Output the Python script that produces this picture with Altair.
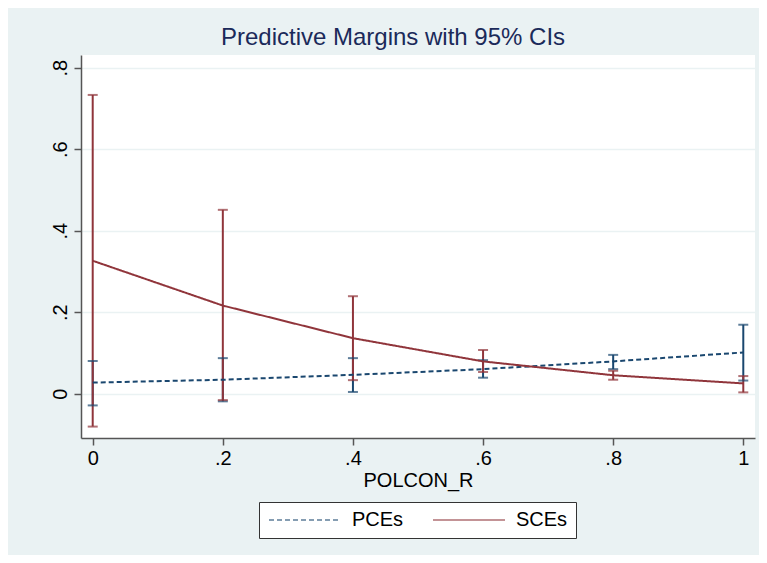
import altair as alt
import pandas as pd

# Data
x_vals = [0.0, 0.2, 0.4, 0.6, 0.8, 1.0]
pce_mean = [0.027, 0.034, 0.046, 0.060, 0.079, 0.101]
pce_lo = [-0.029, -0.019, 0.004, 0.039, 0.060, 0.032]
pce_hi = [0.080, 0.087, 0.087, 0.082, 0.095, 0.169]
sce_mean = [0.326, 0.216, 0.136, 0.079, 0.045, 0.025]
sce_lo = [-0.081, -0.016, 0.033, 0.053, 0.034, 0.003]
sce_hi = [0.733, 0.451, 0.239, 0.107, 0.056, 0.043]
series = ["PCEs", "SCEs"]
y_ticks = [0, 0.2, 0.4, 0.6, 0.8]
x_ticks = [0, 0.2, 0.4, 0.6, 0.8, 1]

rows = []
for name, m, lo, hi in [("PCEs", pce_mean, pce_lo, pce_hi), ("SCEs", sce_mean, sce_lo, sce_hi)]:
    for xv, a, b, c in zip(x_vals, m, lo, hi):
        rows.append({"series": name, "x": xv, "mean": a, "lo": b, "hi": c})
df = pd.DataFrame(rows)

BLUE = "#1A476F"
RED = "#90353B"
FONT = "Liberation Sans"

lab_expr = "datum.value == 0 ? '0' : (datum.value == 1 ? '1' : replace(format(datum.value, '.1f'), '0.', '.'))"

xenc = alt.X("x:Q", scale=alt.Scale(domain=[-0.018, 1.018], nice=False, zero=False),
             axis=alt.Axis(values=x_ticks, labelExpr=lab_expr, title="POLCON_R", grid=False,
                           tickSize=7, labelPadding=3, titlePadding=2,
                           labelFontSize=20, titleFontSize=20))
ysc = alt.Scale(domain=[-0.109, 0.831], nice=False, zero=False)
yaxis = alt.Axis(values=y_ticks, labelExpr=lab_expr, title=None, grid=True, gridColor="#EAF2F3",
                 gridWidth=1.5, tickSize=7, labelAngle=270, labelAlign="center",
                 labelBaseline="bottom", labelPadding=4, labelFontSize=20)

# long horizontal line symbol (custom path scaled by sqrt(size)/2 = 5px)
legend = alt.Legend(title=None, orient="none", legendX=178, legendY=447,
                    direction="horizontal", fillColor="white",
                    strokeColor="#333333", padding=8,
                    symbolType="M-1.6,0L12.8,0", symbolSize=100,
                    symbolStrokeWidth=1.6, labelFontSize=20, labelFont=FONT,
                    labelOffset=65, columnPadding=25, labelColor="black")

color = alt.Color("series:N", scale=alt.Scale(domain=series, range=[BLUE, RED]), legend=legend)
dash = alt.StrokeDash("series:N", scale=alt.Scale(domain=series, range=[[5, 3], [1, 0]]),
                      legend=legend)

base = alt.Chart(df)

rules = base.mark_rule(strokeWidth=2).encode(
    x=xenc,
    y=alt.Y("lo:Q", scale=ysc, axis=yaxis),
    y2="hi:Q",
    color=color,
)
caps_lo = base.mark_tick(orient="horizontal", size=10, thickness=2).encode(
    x="x:Q", y="lo:Q", color=color,
)
caps_hi = base.mark_tick(orient="horizontal", size=10, thickness=2).encode(
    x="x:Q", y="hi:Q", color=color,
)
lines = base.mark_line(strokeWidth=2).encode(
    x="x:Q", y="mean:Q", color=color, strokeDash=dash,
)

chart = alt.layer(rules, caps_lo, caps_hi, lines).properties(
    width=674, height=383,
    title=alt.Title("Predictive Margins with 95% CIs", fontSize=24, font=FONT,
                    fontWeight="normal", color="#1B2A5A", anchor="middle", dx=-25, offset=5),
    autosize=alt.AutoSizeParams(type="none"),
    padding={"left": 73, "top": 47, "right": 4, "bottom": 117},
    background="#EAF2F3",
).configure_view(fill="white", stroke=None).configure_axis(
    labelFont=FONT, titleFont=FONT, labelColor="black", titleColor="black",
    domainColor="#555555", tickColor="#555555", domainWidth=1.5, tickWidth=1.5,
    titleFontWeight="normal",
)

chart.save("out.html", embed_options={"renderer": "svg", "actions": False})
